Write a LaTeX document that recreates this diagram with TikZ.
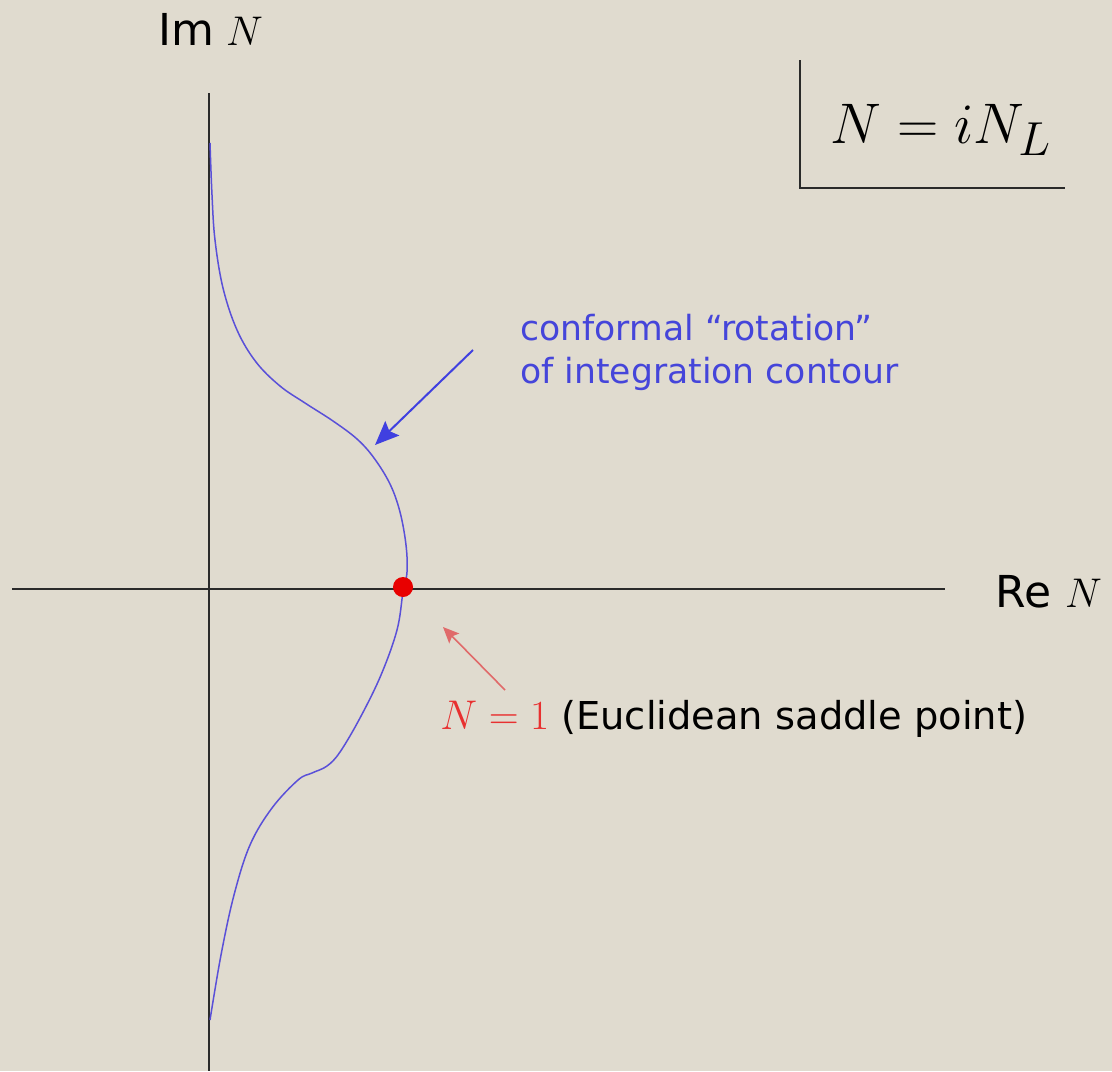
\documentclass[tikz,border=0pt]{standalone}
\usepackage{fontspec}
\setmainfont{DejaVu Sans}
\usetikzlibrary{arrows.meta}
\definecolor{bg}{HTML}{E0DBCF}
\definecolor{axiscol}{HTML}{2A2A2A}
\definecolor{contourcol}{HTML}{5A50D8}
\definecolor{bluetext}{HTML}{4545DA}
\definecolor{bluearrowcol}{HTML}{4040E0}
\definecolor{redtext}{HTML}{E83030}
\definecolor{reddot}{HTML}{E80000}
\definecolor{redarrowcol}{HTML}{E06A6A}
\tikzset{
  axisline/.style={draw=axiscol, line width=1pt},
  contour/.style={draw=contourcol, line width=0.75pt},
  lbl/.style={inner sep=0pt, anchor=base west},
  bluelbl/.style={lbl, text=bluetext, font=\fontsize{17.3}{20}\selectfont},
  bluearrow/.style={draw=bluearrowcol, line width=1pt, -{Stealth[length=12pt, width=10pt, inset=2pt]}},
  redarrow/.style={draw=redarrowcol, line width=0.8pt, -{Stealth[length=8pt, width=7pt, inset=1.5pt]}},
  saddle/.style={circle, fill=reddot, inner sep=0pt, minimum size=10pt},
}
\begin{document}
\begin{tikzpicture}[x=0.5pt,y=-0.5pt]
\fill[bg] (0,0) rectangle (1112,1071);
\useasboundingbox (0,0) rectangle (1112,1071);

% axes
\draw[axisline] (209,93) -- (209,1071);
\draw[axisline] (12,589) -- (945,589);

% axis labels
\node[lbl, font=\fontsize{22}{26}\selectfont] (imlabel) at (158,45) {Im\hspace{6pt}$N$};
\node[lbl, font=\fontsize{22}{26}\selectfont] (relabel) at (995,607) {Re\hspace{7pt}$N$};

% box with N = i N_L
\draw[axisline] (800,60) -- (800,188) -- (1065,188);
\node[inner sep=0pt, anchor=base, font=\fontsize{24.88}{28}\selectfont] (boxlabel) at (941,143) {\scalebox{1.15}{$N = iN_L$}};

% contour
\draw[contour] plot[smooth, tension=0.6] coordinates {
  (210,143) (212,195) (215,240) (223,288) (237,330) (256,362) (280,386)
  (305,403) (333,421) (357,439) (374,458) (390,484) (400,512) (406,545)
  (407,572) (403,592) (397,630) (381,675) (360,718) (340,752) (327,766)
  (312,773) (298,780) (272,808) (250,845) (234,895) (221,955) (210,1020)};

% saddle point
\node[saddle] (dot) at (403,587) {};

% blue annotation
\node[bluelbl] (conf1) at (520,340) {conformal “rotation”};
\node[bluelbl] (conf2) at (520,383) {of integration contour};
\coordinate (btail) at (473,350);
\coordinate (btip) at (375,445);
\draw[bluearrow] (btail) -- (btip);

% red annotation
\coordinate (rtail) at (505,690);
\coordinate (rtip) at (443,627);
\draw[redarrow] (rtail) -- (rtip);
\node[lbl, font=\fontsize{19.2}{23}\selectfont] (saddlelabel) at (440,729) {\textcolor{redtext}{$N=1$} (Euclidean saddle point)};
\end{tikzpicture}
\end{document}
